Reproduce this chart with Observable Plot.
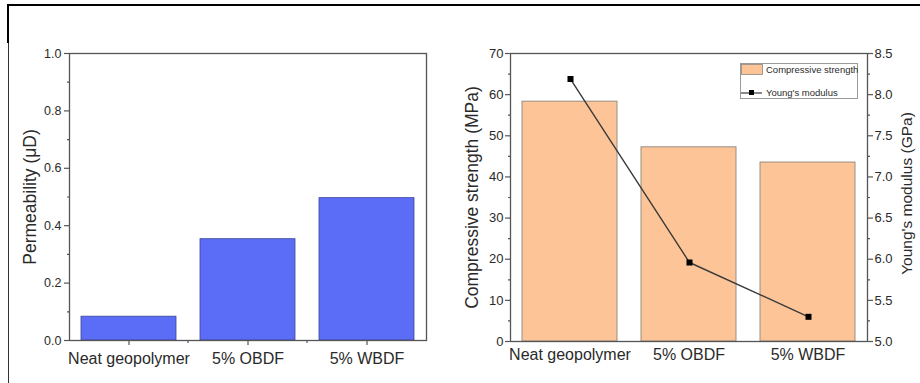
<!DOCTYPE html>
<html>
<head>
<meta charset="utf-8">
<script src="https://cdn.jsdelivr.net/npm/d3@7"></script>
<script src="https://cdn.jsdelivr.net/npm/@observablehq/plot@0.6"></script>
<style>
  body { margin: 0; background: #fff; }
  #fig { position: relative; width: 920px; height: 383px; overflow: hidden; background: #fff;
         font-family: "Liberation Sans", Arial, sans-serif; }
  .layer { position: absolute; top: 0; }
  .rule { position: absolute; background: #000; }
  #legend { position: absolute; left: 740px; top: 63px; }
</style>
</head>
<body>
<div id="fig">
  <div class="rule" style="left:7px; top:4px; width:913px; height:2px;"></div>
  <div class="rule" style="left:7px; top:4px; width:2px; height:39px;"></div>
  <div class="rule" style="left:8px; top:43px; width:1px; height:340px; background:#333;"></div>
  <div id="left" class="layer" style="left:0;"></div>
  <div id="rightBars" class="layer" style="left:460px;"></div>
  <div id="rightLine" class="layer" style="left:460px;"></div>
  <svg id="legend" width="118" height="36"></svg>
</div>
<script>
// Samples and measured properties
const samples = ["Neat geopolymer", "5% OBDF", "5% WBDF"];
const permeability = [0.083, 0.353, 0.496];          // μD
const compressiveStrength = [58.3, 47.2, 43.5];      // MPa
const youngsModulus = [8.19, 5.96, 5.30];            // GPa

// Axis ticks
const permeabilityTicks = [0, 0.2, 0.4, 0.6, 0.8, 1.0];
const permeabilityMinor = [0.1, 0.3, 0.5, 0.7, 0.9];
const strengthTicks = [0, 10, 20, 30, 40, 50, 60, 70];
const strengthMinor = [5, 15, 25, 35, 45, 55, 65];
const modulusTicks = [5.0, 5.5, 6.0, 6.5, 7.0, 7.5, 8.0, 8.5];
const modulusMinor = [5.25, 5.75, 6.25, 6.75, 7.25, 7.75, 8.25];

const rows = samples.map((sample, i) => ({
  sample,
  permeability: permeability[i],
  strength: compressiveStrength[i],
  modulus: youngsModulus[i]
}));

const font = "'Liberation Sans', Arial, sans-serif";
const axisColor = "#555";
const textColor = "#2a2a2a";
const xBand = {domain: samples, paddingInner: 0.2, paddingOuter: 0.1};
const blank = () => "";

// Rotated axis title placed beside the frame
function axisTitle(text, side, dx, fontSize, dy = 0) {
  return Plot.text([text], {
    text: d => d, frameAnchor: side, rotate: -90, dx, dy,
    lineAnchor: "middle", textAnchor: "middle",
    fontSize, fill: textColor
  });
}

// Small ticks between categories on the bottom axis
function bandDividers(length) {
  return (index, scales, values, dims) => {
    const x = scales.x;
    const bw = typeof x.bandwidth === "function" ? x.bandwidth() : x.bandwidth;
    const y0 = dims.height - dims.marginBottom;
    const g = d3.create("svg:g").attr("stroke", axisColor).attr("stroke-width", 1.2);
    for (let i = 1; i < samples.length; i++) {
      const b = (x(samples[i - 1]) + bw + x(samples[i])) / 2;
      g.append("line").attr("x1", b).attr("x2", b).attr("y1", y0).attr("y2", y0 + length);
    }
    return g.node();
  };
}

// Left panel: permeability
const leftPlot = Plot.plot({
  width: 460, height: 383,
  marginTop: 53, marginBottom: 43, marginLeft: 69, marginRight: 34,
  style: {fontFamily: font, background: "transparent", color: textColor, overflow: "visible"},
  x: xBand,
  y: {domain: [0, 1]},
  marks: [
    Plot.barY(rows, {x: "sample", y: "permeability", fill: "#5b6cf6", stroke: "#3d4796", strokeWidth: 0.8}),
    Plot.frame({stroke: axisColor, strokeWidth: 1.3}),
    Plot.axisY(permeabilityTicks, {
      tickSize: 5, tickPadding: 3, stroke: axisColor, strokeWidth: 1.2,
      tickFormat: d3.format(".1f"), fontSize: 12.5, label: null
    }),
    Plot.axisY(permeabilityMinor, {tickSize: 2, stroke: axisColor, strokeWidth: 1.2, tickFormat: blank, label: null}),
    Plot.axisX({tickSize: 5, tickPadding: 7, stroke: axisColor, strokeWidth: 1.2, fontSize: 16, label: null}),
    bandDividers(3),
    axisTitle("Permeability (μD)", "left", -39, 17.5)
  ]
});
document.getElementById("left").append(leftPlot);

// Right panel: compressive strength bars (left axis)
const rightMargins = {marginTop: 53, marginBottom: 42, marginLeft: 50, marginRight: 53};
const barsPlot = Plot.plot({
  width: 460, height: 383, ...rightMargins,
  style: {fontFamily: font, background: "transparent", color: textColor, overflow: "visible"},
  x: xBand,
  y: {domain: [0, 70]},
  marks: [
    Plot.barY(rows, {x: "sample", y: "strength", fill: "#fdc597", stroke: "#8d857c", strokeWidth: 0.9}),
    Plot.frame({stroke: axisColor, strokeWidth: 1.3}),
    Plot.axisY(strengthTicks, {
      tickSize: 5, tickPadding: 2, stroke: axisColor, strokeWidth: 1.2, fontSize: 13, label: null
    }),
    Plot.axisY(strengthMinor, {tickSize: 2, stroke: axisColor, strokeWidth: 1.2, tickFormat: blank, label: null}),
    Plot.axisX({tickSize: 0, tickPadding: 7, fontSize: 16, label: null}),
    axisTitle("Compressive strength (MPa)", "left", -38, 17.5)
  ]
});
document.getElementById("rightBars").append(barsPlot);

// Right panel: Young's modulus line (right axis)
const linePlot = Plot.plot({
  width: 460, height: 383, ...rightMargins,
  style: {fontFamily: font, background: "transparent", color: textColor, overflow: "visible"},
  x: {...xBand, axis: null},
  y: {domain: [5, 8.5]},
  marks: [
    Plot.line(rows, {x: "sample", y: "modulus", stroke: "#3a3a3a", strokeWidth: 1.4}),
    Plot.dot(rows, {x: "sample", y: "modulus", symbol: "square", r: 3.4, fill: "#000", stroke: "none"}),
    Plot.axisY(modulusTicks, {
      anchor: "right", tickSize: 5, tickPadding: 2, stroke: axisColor, strokeWidth: 1.2, fontSize: 13,
      tickFormat: d3.format(".1f"), label: null
    }),
    Plot.axisY(modulusMinor, {anchor: "right", tickSize: 2, stroke: axisColor, strokeWidth: 1.2, tickFormat: blank, label: null}),
    axisTitle("Young's modulus (GPa)", "right", 40, 15.5, -4)
  ]
});
document.getElementById("rightLine").append(linePlot);

// Legend box
const legend = d3.select("#legend");
legend.append("rect").attr("x", 0.5).attr("y", 0.5).attr("width", 117).attr("height", 35)
  .attr("fill", "#fff").attr("fill-opacity", 0.85).attr("stroke", "#9a9a9a");
legend.append("rect").attr("x", 1.5).attr("y", 1.5).attr("width", 21).attr("height", 10)
  .attr("fill", "#fdc597").attr("stroke", "#8d857c").attr("stroke-width", 0.8);
legend.append("line").attr("x1", 1).attr("x2", 22).attr("y1", 30).attr("y2", 30)
  .attr("stroke", "#3a3a3a").attr("stroke-width", 1.2);
legend.append("rect").attr("x", 9).attr("y", 27).attr("width", 5).attr("height", 5).attr("fill", "#000");
const legendText = [["Compressive strength", 10], ["Young's modulus", 33]];
legend.selectAll("text.item").data(legendText).join("text")
  .attr("x", 26).attr("y", d => d[1])
  .attr("font-family", font).attr("font-size", 9.5).attr("fill", textColor)
  .text(d => d[0]);
</script>
</body>
</html>
